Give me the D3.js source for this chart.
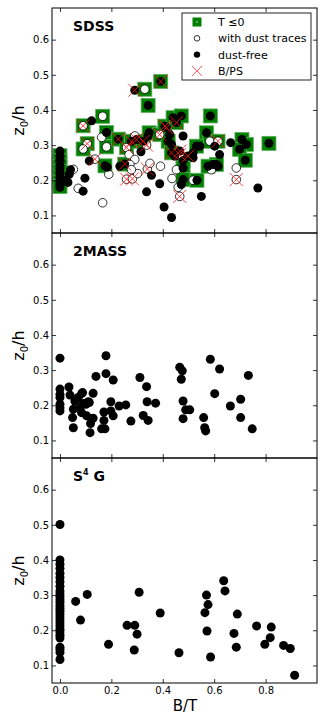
<!DOCTYPE html>
<html>
<head>
<meta charset="utf-8">
<script src="https://cdn.jsdelivr.net/npm/d3@7"></script>
<style>
  body { margin: 0; background: #fff; }
  svg { display: block; font-family: "DejaVu Sans", sans-serif; }
</style>
</head>
<body>
<div id="chart"></div>
<script>
// ---- data: [B/T, z0/h] ----
const xTicks = [0.0, 0.2, 0.4, 0.6, 0.8];
const yTicks = [0.1, 0.2, 0.3, 0.4, 0.5, 0.6];
const panelNames = ["SDSS", "2MASS", "S4G"];

// SDSS, dust-free galaxies
const sdssDustFree = [
  [0,0.283],[0,0.27],[0,0.258],[0,0.243],[0,0.23],[0,0.218],[0,0.207],[0,0.197],[0,0.188],[0,0.18],
  [0.024,0.2],[0.031,0.194],[0.036,0.217],[0.041,0.23],
  [0.097,0.206],[0.09,0.169],[0.114,0.255],[0.123,0.369],
  [0.181,0.336],[0.175,0.241],[0.184,0.237],
  [0.227,0.317],[0.233,0.24],[0.252,0.246],[0.278,0.311],[0.298,0.316],[0.324,0.311],
  [0.347,0.335],[0.343,0.326],[0.315,0.281],
  [0.408,0.354],[0.414,0.35],[0.44,0.378],[0.453,0.364],[0.472,0.383],[0.427,0.33],
  [0.421,0.311],[0.434,0.302],[0.434,0.278],[0.447,0.269],[0.466,0.283],[0.479,0.326],
  [0.479,0.256],[0.479,0.235],[0.479,0.202],[0.472,0.188],
  [0.388,0.19],[0.405,0.124],[0.434,0.094],[0.337,0.167],[0.356,0.214],
  [0.585,0.383],[0.57,0.335],[0.602,0.297],[0.621,0.273],[0.609,0.245],[0.596,0.245],
  [0.576,0.24],[0.615,0.24],[0.531,0.297],[0.544,0.297],[0.518,0.278],[0.498,0.269],
  [0.518,0.264],[0.533,0.2],[0.55,0.154],
  [0.664,0.307],[0.708,0.316],[0.725,0.302],[0.699,0.288],[0.721,0.257],[0.813,0.305],[0.77,0.178],
  [0.392,0.481],[0.291,0.456],[0.343,0.413]
];
// SDSS, with dust traces
const sdssDust = [
  [0,0.255],[0.052,0.231],[0.071,0.177],[0.166,0.136],[0.09,0.355],[0.106,0.304],[0.09,0.289],
  [0.136,0.26],[0.166,0.382],[0.181,0.295],[0.162,0.322],[0.19,0.217],[0.259,0.293],
  [0.259,0.203],[0.282,0.204],[0.269,0.273],[0.291,0.326],[0.337,0.3],[0.388,0.33],
  [0.466,0.273],[0.46,0.18],[0.466,0.154],[0.453,0.23],[0.436,0.205],[0.391,0.24],
  [0.34,0.232],[0.35,0.248],[0.302,0.219],[0.291,0.259],[0.272,0.245],[0.278,0.23],
  [0.583,0.311],[0.615,0.311],[0.589,0.23],[0.518,0.2],[0.686,0.202],[0.686,0.235],[0.33,0.459]
];
// SDSS, T <= 0
const sdssEarly = [
  [0,0.27],[0,0.255],[0,0.24],[0,0.225],[0,0.21],[0,0.195],[0,0.182],
  [0.09,0.355],[0.106,0.304],[0.09,0.289],[0.166,0.382],[0.181,0.336],[0.181,0.295],
  [0.175,0.241],[0.227,0.317],[0.259,0.293],[0.252,0.246],[0.278,0.311],[0.324,0.311],
  [0.347,0.335],[0.388,0.33],[0.408,0.354],[0.44,0.378],[0.453,0.364],[0.472,0.383],
  [0.421,0.311],[0.434,0.278],[0.479,0.256],[0.479,0.235],[0.479,0.202],
  [0.585,0.383],[0.57,0.335],[0.583,0.311],[0.615,0.311],[0.609,0.245],[0.576,0.24],
  [0.531,0.297],[0.533,0.2],[0.708,0.316],[0.725,0.302],[0.699,0.288],[0.721,0.257],
  [0.813,0.305],[0.392,0.481],[0.33,0.459],[0.343,0.413]
];
// SDSS, boxy/peanut bulges
const sdssBPS = [
  [0.09,0.355],[0.106,0.304],[0.136,0.26],[0.227,0.317],[0.259,0.293],[0.252,0.246],
  [0.259,0.203],[0.282,0.204],[0.278,0.311],[0.298,0.316],[0.324,0.311],[0.337,0.3],
  [0.34,0.232],[0.388,0.33],[0.408,0.354],[0.414,0.35],[0.453,0.364],[0.434,0.278],
  [0.466,0.273],[0.466,0.283],[0.498,0.269],[0.466,0.154],[0.615,0.311],[0.686,0.202],
  [0.392,0.481],[0.291,0.456]
];

const twomass = [
  [0,0.334],[0,0.246],[0,0.231],[0,0.222],[0,0.203],[0,0.193],[0,0.184],
  [0.035,0.252],[0.039,0.229],[0.058,0.212],[0.052,0.189],[0.049,0.165],[0.052,0.136],
  [0.084,0.233],[0.078,0.193],[0.091,0.205],[0.084,0.179],[0.101,0.203],[0.11,0.21],
  [0.104,0.17],[0.117,0.122],[0.129,0.234],[0.129,0.163],[0.119,0.148],[0.114,0.208],
  [0.071,0.222],[0.088,0.236],
  [0.14,0.282],[0.179,0.341],[0.179,0.29],[0.171,0.181],[0.171,0.157],[0.162,0.133],
  [0.175,0.133],[0.207,0.272],[0.198,0.21],[0.198,0.184],[0.207,0.17],[0.23,0.198],
  [0.256,0.201],[0.276,0.155],[0.311,0.279],[0.324,0.171],[0.337,0.253],[0.339,0.21],
  [0.343,0.157],[0.372,0.206],[0.466,0.308],[0.476,0.298],[0.472,0.274],[0.479,0.212],
  [0.489,0.187],[0.505,0.187],[0.479,0.162],[0.559,0.165],[0.563,0.136],[0.567,0.127],
  [0.585,0.331],[0.602,0.233],[0.621,0.303],[0.663,0.198],[0.703,0.217],[0.703,0.165],
  [0.733,0.285],[0.748,0.133]
];

const s4g = [
  [0,0.501],[0,0.4],[0,0.388],[0,0.376],[0,0.362],[0,0.35],[0,0.338],[0,0.325],[0,0.312],
  [0,0.303],[0,0.295],[0,0.287],[0,0.279],[0,0.27],[0,0.262],[0,0.254],[0,0.246],[0,0.238],
  [0,0.229],[0,0.221],[0,0.212],[0,0.203],[0,0.195],[0,0.186],[0,0.178],[0,0.152],[0,0.145],
  [0,0.137],[0,0.117],
  [0.061,0.282],[0.08,0.229],[0.106,0.302],[0.189,0.16],[0.261,0.214],[0.291,0.214],
  [0.3,0.189],[0.289,0.144],[0.308,0.308],[0.39,0.249],[0.463,0.136],[0.564,0.25],
  [0.57,0.3],[0.576,0.273],[0.572,0.198],[0.586,0.124],[0.637,0.341],[0.642,0.312],
  [0.677,0.191],[0.69,0.246],[0.686,0.152],[0.765,0.212],[0.797,0.16],[0.818,0.179],
  [0.822,0.209],[0.87,0.157],[0.896,0.148],[0.913,0.072]
];

// ---- layout ----
const W = 327, H = 727;
const left = 52, right = 317, top0 = 8, ph = 225;
const green = "#007f00", xRed = "rgba(255,20,20,0.8)";

const svg = d3.select("#chart").append("svg")
  .attr("width", W).attr("height", H);

const x = d3.scaleLinear().domain([-0.031, 1.0]).range([left, right]);

const panels = [
  {name: "SDSS", free: sdssDustFree},
  {name: "2MASS", free: twomass},
  {name: "S4G", free: s4g}
];

const xMark = (g, cx, cy, s, color, w) => {
  g.append("path")
    .attr("d", `M${cx - s},${cy - s}L${cx + s},${cy + s}M${cx - s},${cy + s}L${cx + s},${cy - s}`)
    .attr("stroke", color).attr("stroke-width", w).attr("fill", "none");
};

panels.forEach((p, i) => {
  const top = top0 + i * ph, bottom = top + ph;
  const y = d3.scaleLinear().domain([0.05, 0.69]).range([bottom, top]);
  const g = svg.append("g");

  // clip to panel
  const clipId = "clip" + i;
  svg.append("clipPath").attr("id", clipId)
    .append("rect").attr("x", left).attr("y", top).attr("width", right - left).attr("height", ph);
  const marks = g.append("g").attr("clip-path", `url(#${clipId})`);

  if (i === 0) {
    marks.selectAll("rect.early").data(sdssEarly).enter().append("rect")
      .attr("x", d => x(d[0]) - 7).attr("y", d => y(d[1]) - 7)
      .attr("width", 14).attr("height", 14)
      .attr("fill", green).attr("stroke", "#5aae5a").attr("stroke-width", 0.8);
    marks.selectAll("circle.dust").data(sdssDust).enter().append("circle")
      .attr("cx", d => x(d[0])).attr("cy", d => y(d[1])).attr("r", 4.3)
      .attr("fill", "#fff").attr("stroke", "#000").attr("stroke-width", 0.8);
  }
  marks.selectAll("circle.free").data(p.free).enter().append("circle")
    .attr("cx", d => x(d[0])).attr("cy", d => y(d[1])).attr("r", 4.5)
    .attr("fill", "#000");
  if (i === 0) {
    sdssBPS.forEach(d => xMark(marks, x(d[0]), y(d[1]), 6.5, xRed, 1));
  }

  // axes: ticks pointing inward on all four sides
  const fmt = d3.format(".1f");
  const ax = g.append("g").attr("font-family", "DejaVu Sans").attr("font-size", 10);
  ax.append("g").attr("transform", `translate(${left},0)`)
    .call(d3.axisLeft(y).tickValues(yTicks).tickSizeInner(-4).tickSizeOuter(0).tickPadding(3).tickFormat(fmt));
  ax.append("g").attr("transform", `translate(${right},0)`)
    .call(d3.axisRight(y).tickValues(yTicks).tickSizeInner(-4).tickSizeOuter(0).tickFormat(""));
  ax.append("g").attr("transform", `translate(0,${top})`)
    .call(d3.axisTop(x).tickValues(xTicks).tickSizeInner(-4).tickSizeOuter(0).tickFormat(""));
  ax.append("g").attr("transform", `translate(0,${bottom})`)
    .call(d3.axisBottom(x).tickValues(xTicks).tickSizeInner(-4).tickSizeOuter(0).tickPadding(4)
      .tickFormat(i === 2 ? fmt : ""));
  ax.selectAll(".domain").remove();
  ax.selectAll("text").attr("font-family", "DejaVu Sans").attr("fill", "#000");
  ax.selectAll(".tick line").attr("stroke", "#000").attr("stroke-width", 0.8);

  // frame
  g.append("rect").attr("x", left).attr("y", top).attr("width", right - left).attr("height", ph)
    .attr("fill", "none").attr("stroke", "#000").attr("stroke-width", 1);

  // panel name
  const t = g.append("text").attr("x", 73).attr("y", top + 23)
    .attr("font-size", 14).attr("font-weight", "bold");
  if (p.name === "S4G") {
    t.append("tspan").text("S");
    t.append("tspan").attr("font-size", 8).attr("dy", -6).text("4");
    t.append("tspan").attr("dy", 6).text(" G");
  } else {
    t.text(p.name);
  }

  // y label
  const yl = g.append("text")
    .attr("transform", `translate(24,${top + ph / 2}) rotate(-90)`)
    .attr("text-anchor", "middle").attr("font-size", 16);
  yl.append("tspan").text("z");
  yl.append("tspan").attr("font-size", 10).attr("dy", 4).text("0");
  yl.append("tspan").attr("dy", -4).text("/h");
});

// x label
svg.append("text").attr("x", 185).attr("y", 711)
  .attr("text-anchor", "middle").attr("font-size", 15).text("B/T");

// legend
const lg = svg.append("g");
lg.append("rect").attr("x", 182).attr("y", 13).attr("width", 129).attr("height", 67)
  .attr("fill", "#fff").attr("stroke", "#222").attr("stroke-width", 1);
const legendItems = ["T \u22640", "with dust traces", "dust-free", "B/PS"];
legendItems.forEach((label, k) => {
  const cy = 22 + k * 16.3, cx = 197;
  if (k === 0) {
    lg.append("rect").attr("x", cx - 4.5).attr("y", cy - 4.5).attr("width", 9).attr("height", 9)
      .attr("fill", green);
    lg.append("circle").attr("cx", cx).attr("cy", cy).attr("r", 0.7).attr("fill", "#fff");
  } else if (k === 1) {
    lg.append("circle").attr("cx", cx).attr("cy", cy).attr("r", 2.8)
      .attr("fill", "#fff").attr("stroke", "#000").attr("stroke-width", 0.8);
  } else if (k === 2) {
    lg.append("circle").attr("cx", cx).attr("cy", cy).attr("r", 3.2).attr("fill", "#000");
  } else {
    xMark(lg, cx, cy, 5, xRed, 0.9);
  }
  lg.append("text").attr("x", 218).attr("y", cy + 4).attr("font-size", 11).text(label);
});
</script>
</body>
</html>
